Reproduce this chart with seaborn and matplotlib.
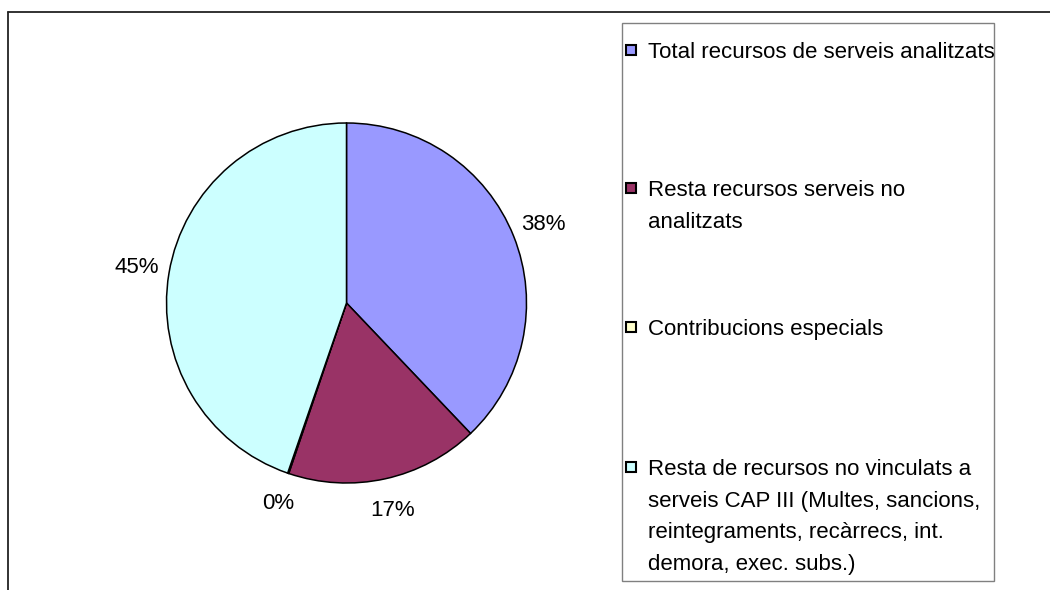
import matplotlib
matplotlib.use("Agg")
import matplotlib.pyplot as plt
from matplotlib.patches import Rectangle
from matplotlib.lines import Line2D
import seaborn as sns

sns.set_theme(style="white")
plt.rcParams["font.family"] = ["Liberation Sans", "DejaVu Sans"]

categories = [
    "Total recursos de serveis analitzats",
    "Resta recursos serveis no\nanalitzats",
    "Contribucions especials",
    "Resta de recursos no vinculats a\nserveis CAP III (Multes, sancions,\nreintegraments, recàrrecs, int.\ndemora, exec. subs.)",
]
shares = [37.9, 17.3, 0.1, 44.7]
colors = ["#9999FF", "#993366", "#FFFFCC", "#CCFFFF"]

W, H = 1050, 590
fig = plt.figure(figsize=(W / 100, H / 100), dpi=100)

# outer chart frame (top and left edges only visible)
fig.add_artist(Line2D([7.5 / W, 7.5 / W], [0, 1 - 11.5 / H], color="#222222", lw=1.3))
fig.add_artist(Line2D([7.5 / W, 1], [1 - 11.5 / H, 1 - 11.5 / H], color="#222222", lw=1.3))

# pie: centre (346.5, 303) px, radius 180 px
cx, cy, r = 346.5, 303, 180
ax = fig.add_axes([(cx - r) / W, (H - cy - r) / H, 2 * r / W, 2 * r / H])
wedges, texts, autotexts = ax.pie(
    shares,
    colors=colors,
    startangle=90,
    counterclock=False,
    autopct="%.0f%%",
    pctdistance=1.18,
    wedgeprops=dict(edgecolor="black", linewidth=1.1),
    textprops=dict(fontsize=16, color="black"),
)
ax.set_xlim(-1, 1)
ax.set_ylim(-1, 1)
ax.set_aspect("equal")
ax.axis("off")

# legend box
lx0, ly0, lx1, ly1 = 622, 23, 994, 581
fig.add_artist(Rectangle((lx0 / W, 1 - ly1 / H), (lx1 - lx0) / W, (ly1 - ly0) / H,
                         transform=fig.transFigure, facecolor="white",
                         edgecolor="#808080", lw=1.0, zorder=0))

# centre of first text line of each entry (px from top)
line_centres = [50, 188, 327, 467]
for label, color, yc in zip(categories, colors, line_centres):
    fig.add_artist(Rectangle((626 / W, 1 - (yc + 5) / H), 10 / W, 10 / H,
                             transform=fig.transFigure, facecolor=color,
                             edgecolor="black", lw=1.5))
    fig.text(648 / W, 1 - (yc - 8) / H, label, fontsize=16, va="top", ha="left",
             linespacing=1.66, color="black")

fig.savefig("out.png", dpi=100, facecolor="white")
